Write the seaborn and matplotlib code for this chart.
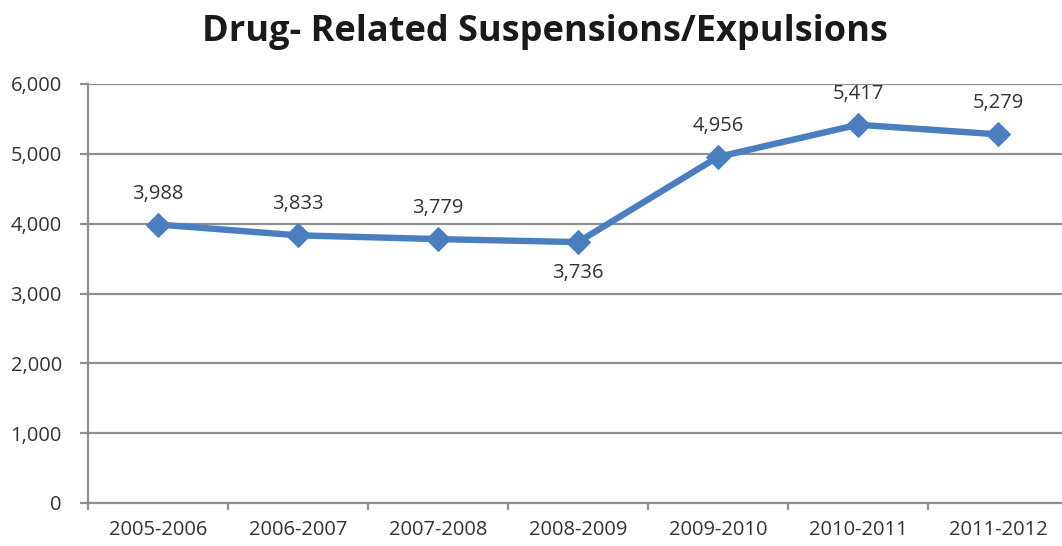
import matplotlib
matplotlib.use("Agg")
import matplotlib.pyplot as plt
import seaborn as sns
import pandas as pd
from matplotlib.ticker import FuncFormatter, MultipleLocator, FixedLocator

years = ["2005-2006", "2006-2007", "2007-2008", "2008-2009",
         "2009-2010", "2010-2011", "2011-2012"]
counts = [3988, 3833, 3779, 3736, 4956, 5417, 5279]
label_below = [False, False, False, True, False, False, False]

df = pd.DataFrame({"year": years, "count": counts})

sns.set_theme(style="white")
plt.rcParams["font.family"] = ["Open Sans", "DejaVu Sans"]

fig = plt.figure(figsize=(10.62, 5.46), dpi=100)
ax = fig.add_axes([88 / 1062, 1 - 503 / 546, 980 / 1062, (503 - 84) / 546])

line_color = "#4A7EBF"
sns.lineplot(data=df, x="year", y="count", ax=ax, color=line_color,
             linewidth=4.6, marker="D", markersize=12.5,
             markeredgecolor=line_color, markerfacecolor=line_color,
             sort=False)

ax.set_xlim(-0.5, len(years) - 0.5)
ax.set_ylim(0, 6000)
ax.yaxis.set_major_locator(MultipleLocator(1000))
ax.yaxis.set_major_formatter(FuncFormatter(lambda v, p: f"{int(v):,}"))
ax.yaxis.grid(True, color="#8f8f8f", linewidth=1.6)
ax.set_axisbelow(True)

for s in ["top", "right"]:
    ax.spines[s].set_visible(False)
for s in ["left", "bottom"]:
    ax.spines[s].set_color("#8f8f8f")
    ax.spines[s].set_linewidth(1.6)

# category boundaries as x tick marks, labels centered in each slot
ax.xaxis.set_major_locator(FixedLocator([i - 0.5 for i in range(len(years) + 1)]))
ax.xaxis.set_major_formatter(FuncFormatter(lambda v, p: ""))
ax.set_xticks(range(len(years)), labels=years, minor=True)
ax.tick_params(axis="x", which="major", bottom=True, length=5, width=1.6,
               color="#8f8f8f", direction="out")
ax.tick_params(axis="x", which="minor", bottom=False, length=0, pad=12,
               labelsize=14.5, labelcolor="#333333")
ax.tick_params(axis="y", left=True, length=5.8, width=1.6, color="#8f8f8f",
               labelsize=14.5, labelcolor="#333333", pad=13)
ax.set_xlabel("")
ax.set_ylabel("")

for i, (v, below) in enumerate(zip(counts, label_below)):
    ax.annotate(f"{v:,}", (i, v), xytext=(0, -31 if below else 31),
                textcoords="offset pixels",
                ha="center", va="center", fontsize=14.5, color="#333333")

fig.text(0.513, 0.942, "Drug- Related Suspensions/Expulsions", ha="center",
         va="center", fontsize=26, fontweight="bold", color="#1a1a1a")

fig.savefig("out.png", dpi=100)
